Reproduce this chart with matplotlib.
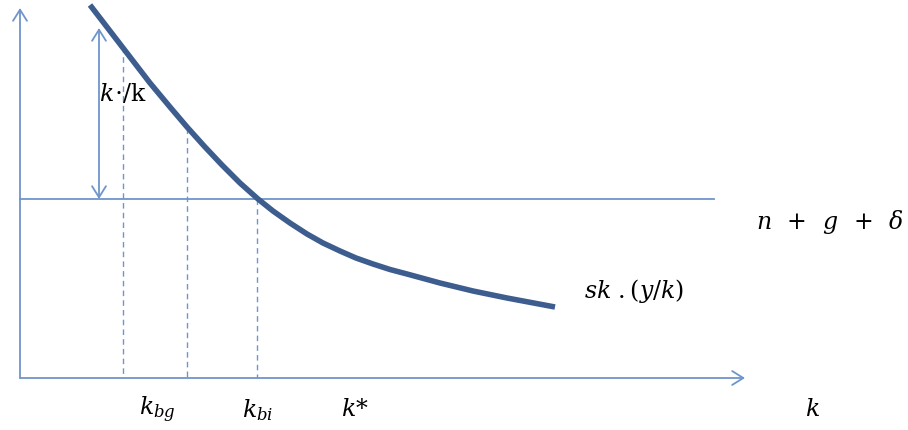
import matplotlib.pyplot as plt
from matplotlib.patches import FancyArrowPatch

# ── Data (diagram space: x to the right, y downward) ──
curve_x = [90, 110, 130, 150, 170, 187, 205, 222, 240, 258, 273, 290, 307, 323, 340,
           356, 373, 390, 407, 440, 473, 507, 555]
curve_y = [5, 31, 57, 83, 107, 127, 147, 165, 183, 199, 211, 223, 234, 243, 251,
           258, 264, 269.5, 274, 283, 291, 298, 307]

dash_x = [123, 187, 257]
dash_top = [47, 128, 199]

axis_origin = (20, 378)
x_axis_end = 745
y_axis_end = 8
steady_y = 199
steady_end = 714
growth_arrow_x = 99
growth_arrow_top = 28

labels = [
    ("$k\\!\\cdot\\!/\\mathrm{k}$", 99, 94, "left"),
    ("$k_{bg}$", 157, 410, "center"),
    ("$k_{bi}$", 258, 410, "center"),
    ("$k$*", 355, 410, "center"),
    ("$k$", 812, 410, "center"),
    ("$n\\ \\,+\\ \\,g\\ \\,+\\ \\,\\delta$", 904, 222, "right"),
    ("$sk\\ .(y/k)$", 584, 291, "left"),
]

LIGHT = "#6f95cc"
DARK = "#3c5d8e"

plt.rcParams["mathtext.fontset"] = "dejavuserif"
fig = plt.figure(figsize=(9.08, 4.30), dpi=100)
ax = fig.add_axes([0, 0, 1, 1])
ax.set_xlim(0, 908)
ax.set_ylim(430, 0)
ax.axis("off")

ox, oy = axis_origin
arrow_kw = dict(arrowstyle="->,head_length=8,head_width=5", color=LIGHT, lw=1.3,
                shrinkA=0, shrinkB=0, mutation_scale=1)
ax.add_patch(FancyArrowPatch((ox, oy), (x_axis_end, oy), **arrow_kw))
ax.add_patch(FancyArrowPatch((ox, oy), (ox, y_axis_end), **arrow_kw))
ax.add_patch(FancyArrowPatch((growth_arrow_x, steady_y), (growth_arrow_x, growth_arrow_top),
                             arrowstyle="<->,head_length=8,head_width=5", color=LIGHT,
                             lw=1.3, shrinkA=0, shrinkB=0, mutation_scale=1))

ax.plot([ox, steady_end], [steady_y, steady_y], color=LIGHT, lw=1.3)

for x, top in zip(dash_x, dash_top):
    ax.plot([x, x], [top, oy], color=LIGHT, lw=1.0, ls=(0, (4, 3)))

ax.plot(curve_x, curve_y, color=DARK, lw=4, solid_capstyle="butt", solid_joinstyle="round")

for text, x, y, ha in labels:
    ax.text(x, y, text, ha=ha, va="center", fontsize=17, family="DejaVu Serif",
            style="italic", color="black")

fig.savefig("out.png", dpi=100)
